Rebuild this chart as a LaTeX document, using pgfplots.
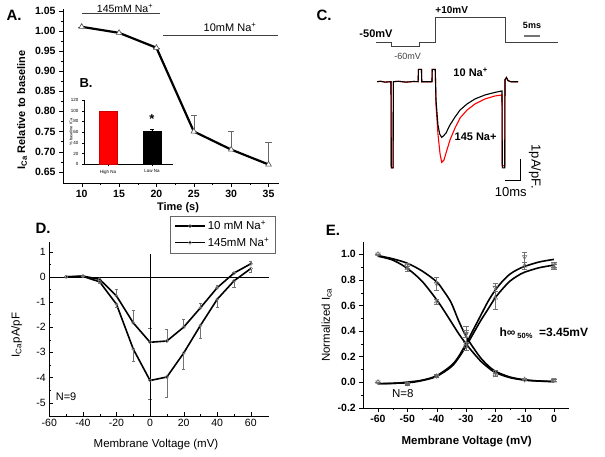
\documentclass[border=0pt]{standalone}
\usepackage{fontspec}
\setmainfont{Liberation Sans}
\usepackage{pgfplots}
\pgfplotsset{compat=1.18}
\newcommand{\fs}[1]{\fontsize{#1}{#1}\selectfont}
\pgfplotsset{
  base/.style={scale only axis, anchor=south west, clip=false,
    /pgf/number format/assume math mode=true,
    axis lines*=left, axis line style={-, black}, tick style={black},
    major tick length=4pt, minor tick length=2pt},
}
\begin{document}
\begin{tikzpicture}[x=1pt,y=1pt]
\path[use as bounding box] (0,0) rectangle (605,-457);

% ---------------- Panel A ----------------
\begin{axis}[base, at={(63pt,-183pt)}, width=216pt, height=174.3pt,
  xmin=7.5, xmax=36.4, ymin=0.622, ymax=1.055,
  xtick={10,15,20,25,30,35}, ytick={0.65,0.70,...,1.06},
  minor x tick num=1, minor y tick num=1, tick align=outside,
  tick label style={font=\bfseries\fs{10.5}},
  yticklabel style={/pgf/number format/.cd, fixed, fixed zerofill, precision=2}]
\addplot[black!75, thin] coordinates {(10.04,1.044) (20.48,1.044)};
\addplot[black!75, thin] coordinates {(20.88,0.9897) (36.27,0.9897)};
\addplot[black, line width=2.2pt, mark=triangle*, mark size=3.2pt,
  mark options={fill=white, draw=black!70, line width=0.6pt},
  error bars/.cd, y dir=plus, y explicit, error bar style={black!60, line width=0.5pt}]
  coordinates {(10,1.01) +- (0,0) (15,0.995) +- (0,0) (20,0.958) +- (0,0)
               (25,0.75) +- (0,0.04) (30,0.705) +- (0,0.046) (35,0.668) +- (0,0.056)};
\node[font=\fs{10.5}] at (axis cs:15.8,1.0565) {145mM Na\textsuperscript{+}};
\node[font=\fs{11}] at (axis cs:29.85,1.0095) {10mM Na\textsuperscript{+}};
\end{axis}
\node[font=\bfseries\fs{15}] at (14,-15) {A.};
\node[font=\bfseries\fs{11}] at (178,-208) {Time (s)};
\node[font=\bfseries\fs{11}, rotate=90] at (22,-110) {I$_{\mathbf{Ca}}$ Relative to baseline};

% ---------------- Inset B ----------------
\begin{axis}[base, at={(84pt,-164.3pt)}, width=89pt, height=64.3pt,
  xmin=-0.545, xmax=1.48, ymin=0, ymax=120,
  ytick={0,20,...,120}, xtick={0,1}, xticklabels={High Na, Low Na},
  tick align=outside, major tick length=2pt,
  tick label style={font=\fs{4.5}},
  ybar, bar width=17.7pt, bar shift=0pt]
\addplot[fill=red, draw=red!80!black] coordinates {(0,100)};
\addplot[fill=black, draw=black, error bars/.cd, y dir=plus, y explicit,
  error bar style={black, line width=0.5pt}] coordinates {(1,62) +- (0,4)};
\node[font=\bfseries\fs{13}] at (axis cs:1,84) {*};
\end{axis}
\node[font=\bfseries\fs{13}, anchor=west] at (76,-83) {B.};
\node[font=\fs{4}, rotate=90] at (71,-132) {\% baseline ICa};

% ---------------- Panel C ----------------
\begin{axis}[at={(368.5pt,-197.2pt)}, anchor=south west, scale only axis,
  width=202.5pt, height=189pt, xmin=-5, xmax=130, ymin=-5.5, ymax=3.5,
  hide axis, clip=false]
% voltage protocol
\addplot[black!75, line width=0.8pt] coordinates {(0,1.857) (10.47,1.857) (10.47,1.70)
  (28.87,1.70) (28.87,1.857) (39.8,1.857) (39.8,3.067) (86,3.067) (86,1.857) (121.3,1.857)};
\addplot[black!55, line width=1.2pt] coordinates {(98.7,2.18) (109.3,2.18)};
% red trace (145 Na+)
\addplot[red, line width=1.1pt] coordinates {(0.7,0) (3,0.02) (6,-0.02) (10,0) (10.2,-4.1) (11.4,-4.1) (11.6,0)
  (15,0.02) (20,-0.02) (25,0.01) (28.1,0) (28.3,0.59) (30.3,0.59) (30.5,0) (37.3,0)
  (37.5,0.59) (39.5,0.59) (40.0,-1.11) (41.3,-2.49) (42.7,-3.44) (43.8,-3.84) (45.3,-3.73)
  (47.3,-3.25) (49.3,-2.78) (52.7,-2.2) (56,-1.73) (60.7,-1.35) (66,-1.06) (72.7,-0.82)
  (79.3,-0.68) (84,-0.63) (84.2,-4.0) (85.8,-4.0) (86,0.1) (87,0.2) (88,0.05) (90,0) (94.7,0)};
% black trace (10 Na+)
\addplot[black, line width=1.1pt] coordinates {(0.7,0) (3,0.02) (6,-0.02) (10,0) (10.2,-4.1) (11.4,-4.1) (11.6,0)
  (15,0.02) (20,-0.02) (25,0.01) (28.1,0) (28.3,0.59) (30.3,0.59) (30.5,0) (37.3,0)
  (37.5,0.59) (39.5,0.59) (40.0,-0.87) (41.3,-2.06) (42.5,-2.5) (43.8,-2.65) (45,-2.58)
  (46.7,-2.44) (49.3,-2.06) (52.7,-1.68) (56,-1.35) (60.7,-1.06) (66,-0.82) (72.7,-0.63)
  (79.3,-0.51) (84,-0.44) (84.2,-4.1) (85.8,-4.1) (86,0.1) (87,0.2) (88,0.05) (90,0) (94.7,0)};
% scale bars
\addplot[black, line width=0.7pt] coordinates {(86,-4.68) (96,-4.68) (96,-3.7)};
\node[font=\bfseries\fs{11}] at (axis cs:0,2.30) {-50mV};
\node[font=\fs{9}, text=black!75] at (axis cs:21.1,1.22) {-60mV};
\node[font=\bfseries\fs{10}] at (axis cs:50.5,3.41) {+10mV};
\node[font=\bfseries\fs{9}] at (axis cs:104,2.7) {5ms};
\node[font=\bfseries\fs{11}] at (axis cs:63.1,0.43) {10 Na\textsuperscript{+}};
\node[font=\bfseries\fs{11}] at (axis cs:66.4,-2.62) {145 Na+};
\node[font=\fs{13}] at (axis cs:89.8,-5.24) {10ms};
\node[font=\fs{13}, rotate=-90] at (axis cs:106,-4.05) {1pA/pF.};
\end{axis}
\node[font=\bfseries\fs{15}] at (324,-15) {C.};

% ---------------- Panel D ----------------
\begin{axis}[base, at={(49.3pt,-416pt)}, width=220pt, height=174.4pt,
  xmin=-60, xmax=71, ymin=-5.53, ymax=1.4,
  xtick={-60,-40,...,60}, ytick={-5,...,1}, minor x tick num=1, minor y tick num=1,
  tick align=inside, tick label style={font=\fs{10.5}},
  legend style={at={(rel axis cs:0.5486,1.1485)}, anchor=north west, draw=black!60,
    font=\fs{11.5}, legend cell align=left, inner xsep=4pt, inner ysep=3pt, row sep=2pt},
  legend image code/.code={\draw[mark repeat=2,mark phase=2,#1] plot coordinates {(0pt,0pt) (15pt,0pt) (30pt,0pt)};}]
\addplot[black, line width=1.6pt, mark=o, mark size=1.6pt,
  mark options={fill=white, draw=black!55, line width=0.5pt},
  error bars/.cd, y dir=plus, y explicit, error bar style={black!55, line width=0.5pt}]
  coordinates {(-50,0) +- (0,0) (-40,0.03) +- (0,0) (-30,-0.1) +- (0,0.05) (-20,-0.76) +- (0,0.25)
    (-10,-1.83) +- (0,0.5) (0,-2.6) +- (0,0.55) (10,-2.55) +- (0,0.45) (20,-2.0) +- (0,0.3)
    (30,-1.23) +- (0,0.2) (40,-0.43) +- (0,0.08) (50,0.15) +- (0,0.05) (60,0.52) +- (0,0.12)};
\addlegendentry{10 mM Na\textsuperscript{+}}
\addplot[black, line width=1.6pt, mark=o, mark size=1.6pt,
  mark options={fill=white, draw=black!55, line width=0.5pt},
  error bars/.cd, y dir=minus, y explicit, error bar style={black!55, line width=0.5pt}]
  coordinates {(-50,0) +- (0,0) (-40,0.02) +- (0,0) (-30,-0.2) +- (0,0.05) (-20,-1.09) +- (0,0.1)
    (-10,-2.87) +- (0,0.5) (0,-4.12) +- (0,0.75) (10,-3.98) +- (0,0.8) (20,-3.03) +- (0,0.65)
    (30,-1.93) +- (0,0.5) (40,-0.89) +- (0,0.3) (50,-0.16) +- (0,0.25) (60,0.33) +- (0,0.15)};
\addlegendentry{145mM Na\textsuperscript{+}}
\addplot[black, line width=0.5pt, forget plot] coordinates {(-60,0) (71,0)};
\addplot[black, line width=0.5pt, forget plot] coordinates {(0,-5.53) (0,0.9)};
\node[font=\fs{11}] at (axis cs:-50,-4.75) {N=9};
\end{axis}
\node[font=\bfseries\fs{15}] at (43,-228) {D.};
\node[font=\fs{11.5}] at (156,-445) {Membrane Voltage (mV)};
\node[font=\fs{11.5}, rotate=90] at (16.7,-335) {I$_{\mathrm{Ca}}$pA/pF};

% ---------------- Panel E ----------------
\begin{axis}[base, at={(363.3pt,-407.7pt)}, width=205.3pt, height=166.2pt,
  xmin=-65, xmax=5, ymin=-0.2, ymax=1.1,
  xtick={-60,-50,...,0}, ytick={-0.2,0,...,1.0}, minor x tick num=1, minor y tick num=1,
  tick align=outside, tick label style={font=\bfseries\fs{10.5}},
  yticklabel style={/pgf/number format/.cd, fixed, fixed zerofill, precision=1}]
% fitted curves
\addplot[black, line width=1.6pt, smooth] coordinates {(-60,-0.012) (-55,-0.01) (-50,0) (-45,0.015) (-40,0.05)
  (-35,0.13) (-32.5,0.2) (-30,0.3) (-27.5,0.41) (-25,0.52) (-22.5,0.63) (-20,0.72) (-17.5,0.79)
  (-15,0.845) (-12.5,0.88) (-10,0.905) (-5,0.94) (0,0.96)};
\addplot[black, line width=1.6pt, smooth] coordinates {(-60,-0.012) (-50,-0.005) (-45,0.012) (-40,0.045)
  (-35,0.12) (-32.5,0.19) (-30,0.28) (-27.5,0.38) (-25,0.48) (-22.5,0.57) (-20,0.66) (-17.5,0.73)
  (-15,0.79) (-12.5,0.83) (-10,0.86) (-5,0.895) (0,0.915)};
\addplot[black, line width=1.6pt, smooth] coordinates {(-60,0.99) (-55,0.965) (-50,0.93) (-45,0.87)
  (-40,0.785) (-37.5,0.71) (-35,0.62) (-32.5,0.48) (-30,0.36) (-27.5,0.27) (-25,0.19)
  (-22.5,0.13) (-20,0.085) (-15,0.04) (-10,0.018) (-5,0.009) (0,0.005)};
\addplot[black, line width=1.6pt, smooth] coordinates {(-60,0.985) (-55,0.955) (-50,0.89) (-45,0.79)
  (-40,0.645) (-37.5,0.56) (-35,0.47) (-32.5,0.38) (-30,0.3) (-27.5,0.23) (-25,0.165)
  (-22.5,0.115) (-20,0.075) (-15,0.035) (-10,0.016) (-5,0.008) (0,0.004)};
% data markers
\addplot[only marks, mark=triangle, mark size=2.6pt, mark options={draw=black!60, rotate=180, line width=0.5pt},
  error bars/.cd, y dir=both, y explicit, error bar style={black!55, line width=0.4pt}]
  coordinates {(-60,1.0) +- (0,0) (-50,0.91) +- (0,0.02) (-40,0.77) +- (0,0.05) (-30,0.375) +- (0,0.06)
    (-20,0.08) +- (0,0.01) (-10,0.02) +- (0,0) (0,0.02) +- (0,0)
    (-60,0) +- (0,0) (-50,-0.01) +- (0,0.01) (-40,0.05) +- (0,0.01) (-30,0.38) +- (0,0.03)
    (-20,0.74) +- (0,0.03) (-10,0.98) +- (0,0.04) (0,0.92) +- (0,0.02)};
\addplot[only marks, mark=triangle, mark size=2.6pt, mark options={draw=black!60, line width=0.5pt},
  error bars/.cd, y dir=both, y explicit, error bar style={black!55, line width=0.4pt}]
  coordinates {(-60,1.0) +- (0,0) (-50,0.89) +- (0,0.02) (-40,0.63) +- (0,0.02) (-30,0.3) +- (0,0.05)
    (-20,0.06) +- (0,0.01) (-10,0.02) +- (0,0) (0,0.01) +- (0,0)
    (-60,0) +- (0,0) (-50,-0.015) +- (0,0.01) (-40,0.045) +- (0,0.01) (-30,0.28) +- (0,0.03)
    (-20,0.66) +- (0,0.09) (-10,0.91) +- (0,0.03) (0,0.90) +- (0,0.02)};
\node[font=\fs{11.5}] at (axis cs:-51.5,-0.09) {N=8};
\end{axis}
\node[font=\bfseries\fs{12}, anchor=west] at (496,-333.3) {h∞\,\raisebox{-2.5pt}{\fs{7.5}50\%}\ \ =3.45mV};
\node[font=\bfseries\fs{15}] at (333,-230) {E.};
\node[font=\bfseries\fs{11.5}] at (466.7,-441.7) {Membrane Voltage (mV)};
\node[font=\fs{11.5}, rotate=90] at (326.7,-325) {Normalized I$_{\mathrm{ca}}$};
\end{tikzpicture}
\end{document}
